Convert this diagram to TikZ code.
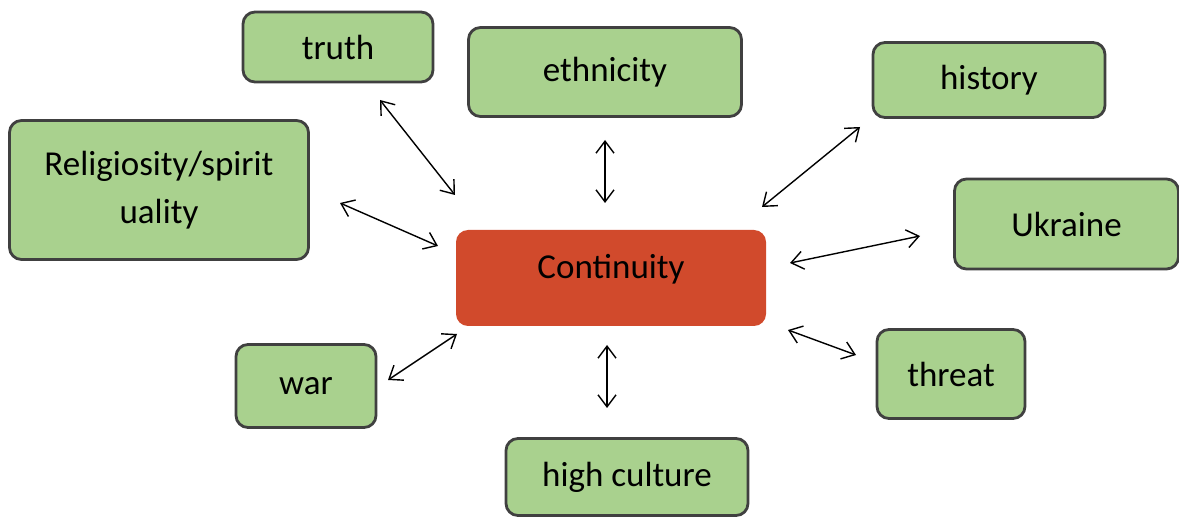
\documentclass[tikz,border=0pt]{standalone}
\usepackage{fontspec}
\setmainfont{Carlito}
\usetikzlibrary{arrows.meta,positioning}
\definecolor{leaf}{RGB}{169,209,142}
\definecolor{rim}{RGB}{64,64,64}
\definecolor{hub}{RGB}{209,74,44}

\begin{document}
\begin{tikzpicture}[x=0.5pt,y=-0.5pt,
    every node/.style={font=\fontsize{17.5}{24}\selectfont, align=center, inner sep=0pt},
    leafbox/.style={draw=rim, line width=1.4pt, fill=leaf, rounded corners=6pt},
    hubbox/.style={fill=hub, rounded corners=6pt},
    link/.style={{Straight Barb[length=6pt,width=9pt]}-{Straight Barb[length=6pt,width=9pt]}, line width=0.7pt}]
            \useasboundingbox (0,0) rectangle (1179,518);
            \node[hubbox, minimum width=155pt, minimum height=48pt,
                  label={[yshift=4.5pt]center:Continuity}] (contin) at (611,278) {};
            \node[leafbox, minimum width=95pt, minimum height=35pt] (truth) at (338,47) {truth};
            \node[leafbox, minimum width=136.5pt, minimum height=44.5pt] (ethnicity) at (605,72) {ethnicity};
            \node[leafbox, minimum width=116pt, minimum height=37.5pt] (history) at (989,80) {history};
            \node[leafbox, minimum width=149.5pt, minimum height=69.5pt] (religio) at (159,190) {Religiosity/spirit\\uality};
            \node[leafbox, minimum width=112pt, minimum height=45pt] (ukraine) at (1066.5,224) {Ukraine};
            \node[leafbox, minimum width=70pt, minimum height=41.5pt] (war) at (306,386) {war};
            \node[leafbox, minimum width=74pt, minimum height=44.5pt] (threat) at (951,374) {threat};
            \node[leafbox, minimum width=121pt, minimum height=38.5pt] (culture) at (627,477) {high culture};
            % free ends of the double arrows
            \coordinate (truthA) at (380,100);   \coordinate (truthB) at (455,195);
            \coordinate (relA) at (340,203);     \coordinate (relB) at (438,246);
            \coordinate (ethA) at (605,140);     \coordinate (ethB) at (605,203);
            \coordinate (histA) at (860,127);    \coordinate (histB) at (762,207);
            \coordinate (ukrA) at (920,236);     \coordinate (ukrB) at (790,263);
            \coordinate (thrA) at (788,330);     \coordinate (thrB) at (856,355);
            \coordinate (culA) at (607,345);     \coordinate (culB) at (607,408);
            \coordinate (warA) at (457,334);     \coordinate (warB) at (388,380);
            \draw[link] (truthA) -- (truthB);
            \draw[link] (relA) -- (relB);
            \draw[link] (ethA) -- (ethB);
            \draw[link] (histA) -- (histB);
            \draw[link] (ukrA) -- (ukrB);
            \draw[link] (thrA) -- (thrB);
            \draw[link] (culA) -- (culB);
            \draw[link] (warA) -- (warB);
\end{tikzpicture}
\end{document}
